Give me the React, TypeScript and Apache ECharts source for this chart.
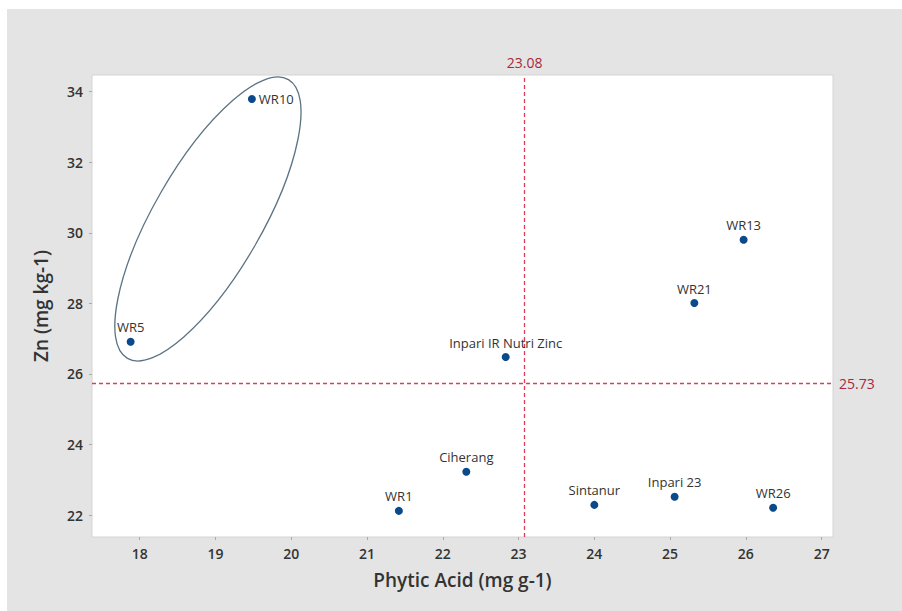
import React, { useEffect, useRef } from "react";
import * as echarts from "echarts";

const cultivars = ["WR5", "WR10", "WR1", "Ciherang", "Inpari IR Nutri Zinc", "Sintanur", "Inpari 23", "WR26", "WR21", "WR13"];
const phyticAcid = [17.88, 19.48, 21.42, 22.31, 22.83, 24.0, 25.06, 26.36, 25.32, 25.97];
const zinc = [26.91, 33.79, 22.12, 23.23, 26.48, 22.29, 22.52, 22.21, 28.01, 29.8];
const xTicks = [18, 19, 20, 21, 22, 23, 24, 25, 26, 27];
const yTicks = [22, 24, 26, 28, 30, 32, 34];
const meanPhytic = 23.08;
const meanZinc = 25.73;
const ellipseCenter = [18.9, 30.39];

const FONT = "'Open Sans', 'Noto Sans', sans-serif";
const REF_LINE = { color: "#e03c55", type: [4, 3], width: 1.3, opacity: 1 };
const REF_LABEL = { color: "#a8283c", fontSize: 14, fontFamily: FONT, position: "end", distance: 6 };

export default function App() {
  const ref = useRef<HTMLDivElement>(null);
  useEffect(() => {
    if (!ref.current) return;
    const chart = echarts.init(ref.current, null, { renderer: "svg" });
    const data = cultivars.map((n, i) => ({
      name: n,
      value: [phyticAcid[i], zinc[i]],
      label: n === "WR10" ? { position: "right", distance: 3 } : undefined,
    }));
    chart.setOption({
      animation: false,
      backgroundColor: "#e4e4e4",
      textStyle: { fontFamily: FONT },
      grid: {
        left: 85,
        top: 66,
        right: 69,
        bottom: 74,
        show: true,
        backgroundColor: "#ffffff",
        borderColor: "#d4d4d4",
        borderWidth: 1,
      },
      xAxis: {
        type: "value",
        min: 17.37,
        max: 27.15,
        name: "Phytic Acid (mg g-1)",
        nameLocation: "middle",
        nameGap: 33,
        nameTextStyle: { color: "#333", fontSize: 19, fontWeight: 600, fontFamily: FONT },
        axisLine: { show: false },
        splitLine: { show: false },
        axisTick: { show: true, length: 3, lineStyle: { color: "#aaa" }, customValues: xTicks },
        axisLabel: { color: "#333", fontSize: 14, fontWeight: 600, margin: 9, customValues: xTicks },
      },
      yAxis: {
        type: "value",
        min: 21.38,
        max: 34.47,
        name: "Zn (mg kg-1)",
        nameLocation: "middle",
        nameGap: 42,
        nameTextStyle: { color: "#333", fontSize: 19, fontWeight: 600, fontFamily: FONT },
        axisLine: { show: false },
        splitLine: { show: false },
        axisTick: { show: true, length: 3, lineStyle: { color: "#aaa" }, customValues: yTicks },
        axisLabel: { color: "#333", fontSize: 14, fontWeight: 600, margin: 9, customValues: yTicks },
      },
      series: [
        {
          type: "scatter",
          name: "refX",
          data: [],
          markLine: {
            silent: true,
            symbol: "none",
            lineStyle: REF_LINE,
            label: { ...REF_LABEL, formatter: String(meanPhytic) },
            data: [{ xAxis: meanPhytic }],
          },
        },
        {
          type: "scatter",
          name: "refY",
          data: [],
          markLine: {
            silent: true,
            symbol: "none",
            lineStyle: REF_LINE,
            label: { ...REF_LABEL, formatter: String(meanZinc) },
            data: [{ yAxis: meanZinc }],
          },
        },
        {
          type: "scatter",
          symbolSize: 8,
          itemStyle: { color: "#0b4a8a", opacity: 1 },
          data,
          z: 5,
          label: {
            show: true,
            formatter: "{b}",
            position: "top",
            distance: 4,
            color: "#333",
            fontSize: 13,
            fontFamily: FONT,
          },
        },
      ],
    });
    const c = chart.convertToPixel({ gridIndex: 0 }, ellipseCenter) as number[];
    chart.setOption({
      graphic: [
        {
          type: "ellipse",
          x: c[0],
          y: c[1],
          rotation: (60 * Math.PI) / 180,
          shape: { cx: 0, cy: 0, rx: 161, ry: 54 },
          style: { fill: "none", stroke: "#5b7384", lineWidth: 1.3 },
          z: 10,
        },
      ],
    });
    return () => chart.dispose();
  }, []);
  return (
    <div
      ref={ref}
      style={{ position: "absolute", left: 7, top: 9, width: 895, height: 602 }}
    />
  );
}
